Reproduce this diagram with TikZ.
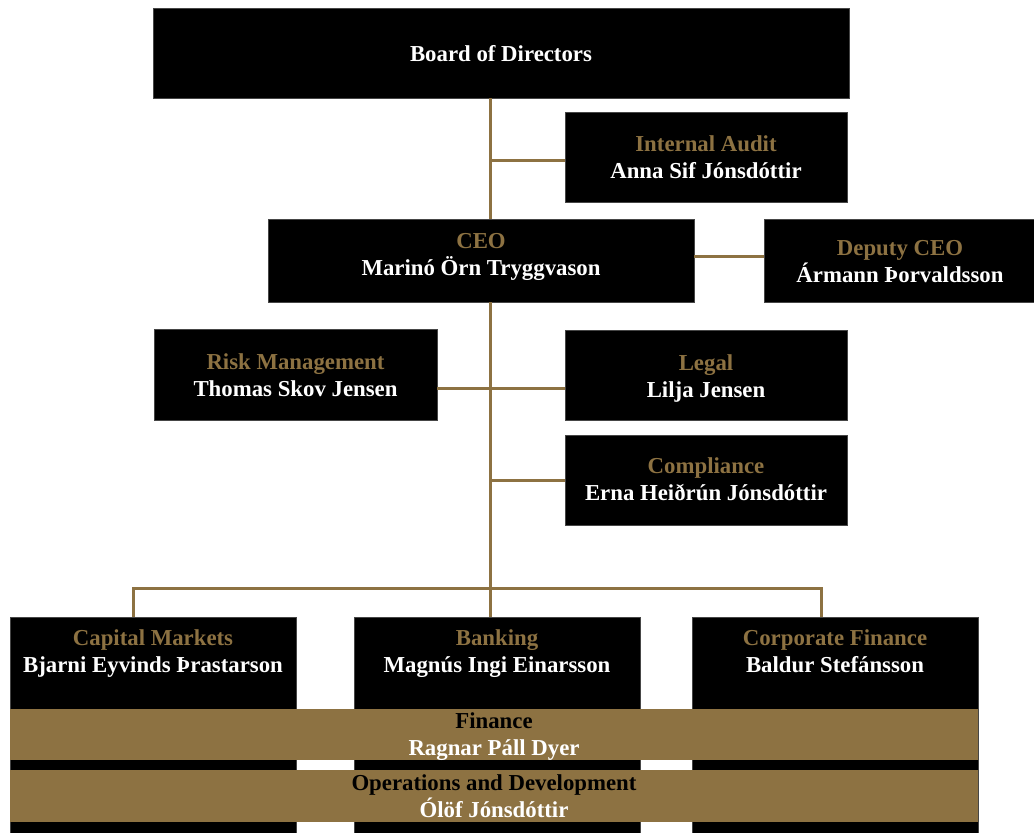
\documentclass[tikz,border=0pt]{standalone}
\usepackage{fontspec}
\setmainfont{Liberation Serif}
\definecolor{gold}{RGB}{141,114,66}
\definecolor{edge}{RGB}{70,70,70}
\begin{document}
\begin{tikzpicture}[x=1pt,y=-1pt,
  box/.style={fill=black,draw=edge,line width=0.8pt,inner sep=0pt},
  bar/.style={fill=gold,draw=none,inner sep=0pt},
  lbl/.style={inner sep=0pt,anchor=base,align=center,font=\fontsize{22.8}{27.5}\selectfont\bfseries,text=white},
  link/.style={draw=gold,line width=3pt}]
\useasboundingbox (0,0) rectangle (1034,833);
% boxes
\node[box,minimum width=696,minimum height=90] (board) at (501,53) {};
\node[box,minimum width=282,minimum height=90] (ia) at (706,157) {};
\node[box,minimum width=426,minimum height=83] (ceo) at (481,260.5) {};
\node[box,minimum width=272,minimum height=83] (dep) at (900,260.5) {};
\node[box,minimum width=283,minimum height=91] (risk) at (295.5,374.5) {};
\node[box,minimum width=282,minimum height=90] (legal) at (706,375) {};
\node[box,minimum width=282,minimum height=90] (comp) at (706,480) {};
\node[box,minimum width=286,minimum height=218,anchor=north] (cm) at (153,617) {};
\node[box,minimum width=286,minimum height=218,anchor=north] (bank) at (497,617) {};
\node[box,minimum width=286,minimum height=218,anchor=north] (cf) at (835,617) {};
\node[bar,minimum width=968,minimum height=51] (fin) at (494,734.5) {};
\node[bar,minimum width=968,minimum height=52] (ops) at (494,796) {};
% labels (anchor = baseline of last line)
\node[lbl] (boardt) at (501,61.5) {Board of Directors};
\node[lbl] (iat) at (706,178.5) {\textcolor{gold}{Internal Audit}\\Anna Sif Jónsdóttir};
\node[lbl] (ceot) at (481,275.5) {\textcolor{gold}{CEO}\\Marinó Örn Tryggvason};
\node[lbl] (dept) at (900,282.5) {\textcolor{gold}{Deputy CEO}\\Ármann Þorvaldsson};
\node[lbl] (riskt) at (295.5,396.5) {\textcolor{gold}{Risk Management}\\Thomas Skov Jensen};
\node[lbl] (legalt) at (706,397.5) {\textcolor{gold}{Legal}\\Lilja Jensen};
\node[lbl] (compt) at (706,500.5) {\textcolor{gold}{Compliance}\\Erna Heiðrún Jónsdóttir};
\node[lbl] (cmt) at (153,672.5) {\textcolor{gold}{Capital Markets}\\Bjarni Eyvinds Þrastarson};
\node[lbl] (bankt) at (497,672.5) {\textcolor{gold}{Banking}\\Magnús Ingi Einarsson};
\node[lbl] (cft) at (835,672.5) {\textcolor{gold}{Corporate Finance}\\Baldur Stefánsson};
\node[lbl] (fint) at (494,755.5) {\textcolor{black}{Finance}\\Ragnar Páll Dyer};
\node[lbl] (opst) at (494,817.5) {\textcolor{black}{Operations and Development}\\Ólöf Jónsdóttir};
% connectors
\coordinate (branch) at (490,588);
\coordinate (iaj) at (490,160);
\coordinate (compj) at (490,480);
\draw[link] (board.south -| iaj) -- (ceo.north -| iaj);
\draw[link] (ceo.south -| iaj) -- (bank.north -| iaj);
\draw[link] (iaj) -- (ia.west |- iaj);
\draw[link] (compj) -- (comp.west |- compj);
\draw[link] (ceo.east |- dep.west) ++(0,-4) coordinate (dj) -- (dep.west |- dj);
\draw[link] (risk.east |- legal.west) ++(0,13) coordinate (rj) -- (legal.west |- rj);
\draw[link] (cm.north -| 133,0) |- (branch) -| (cf.north -| 821,0);
\end{tikzpicture}
\end{document}
